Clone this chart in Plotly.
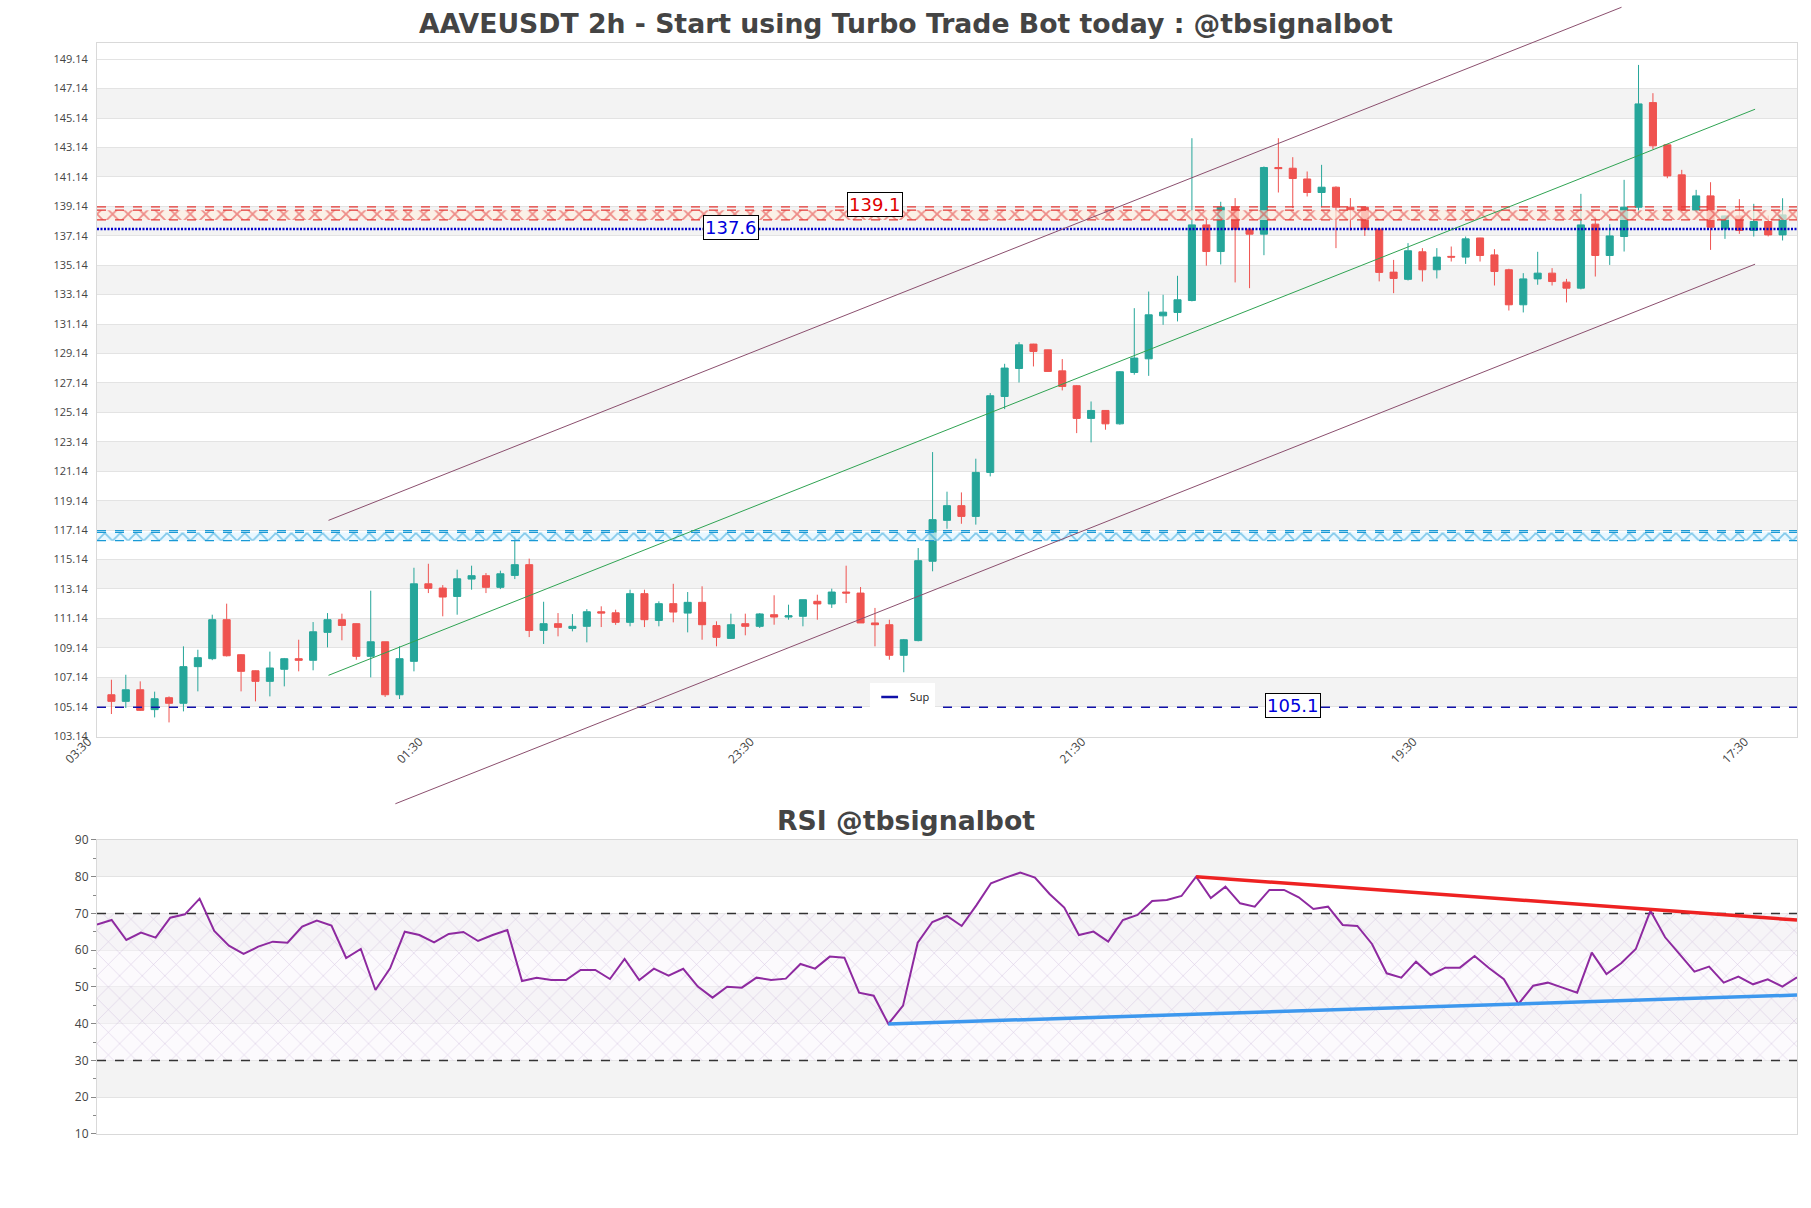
import plotly.graph_objects as go
import pandas as pd

# ---------------- data ----------------
start_time = "2023-05-01 05:30"
tick_labels = ["03:30", "01:30", "23:30", "21:30", "19:30", "17:30"]

opens = [105.95, 105.50, 106.29, 104.94, 105.75, 105.37, 107.86, 108.40, 111.05, 108.67,
         107.58, 106.86, 107.68, 108.40, 108.29, 110.19, 111.05, 110.78, 108.56, 109.55,
         105.95, 108.22, 113.49, 113.20, 112.63, 113.81, 114.04, 113.25, 114.06, 114.79,
         110.32, 110.78, 110.46, 110.60, 111.59, 111.52, 110.87, 112.82, 111.00, 112.14,
         111.50, 112.23, 110.65, 109.78, 110.78, 110.60, 111.39, 111.23, 111.28, 112.30,
         112.12, 112.93, 112.86, 110.83, 110.71, 108.63, 109.63, 115.02, 117.80, 118.80,
         118.07, 121.06, 126.22, 128.12, 129.78, 129.39, 127.96, 126.95, 124.73, 125.27,
         124.36, 127.85, 128.78, 131.70, 131.93, 132.74, 137.88, 136.07, 139.08, 137.59,
         137.25, 141.78, 141.73, 141.00, 140.08, 140.44, 139.08, 139.08, 137.59, 134.67,
         134.18, 136.05, 134.83, 135.74, 135.69, 136.99, 135.84, 134.83, 132.45, 134.21,
         134.60, 133.99, 133.58, 137.93, 135.80, 137.09, 139.08, 146.19, 143.32, 141.28,
         138.86, 139.85, 137.61, 138.49, 137.50, 138.11, 137.20]
highs = [106.97, 107.31, 106.86, 106.16, 105.84, 109.24, 109.01, 111.39, 112.14, 108.70,
         107.60, 108.88, 108.45, 109.69, 110.89, 111.50, 111.46, 110.80, 113.02, 109.55,
         109.24, 114.58, 114.85, 113.40, 114.45, 114.72, 114.22, 114.38, 116.71, 115.20,
         112.27, 111.50, 111.43, 111.77, 111.96, 111.73, 113.09, 113.09, 112.30, 113.49,
         112.93, 113.32, 110.94, 111.46, 111.46, 111.50, 112.71, 112.07, 112.41, 112.75,
         113.16, 114.72, 113.27, 111.85, 111.05, 109.74, 115.92, 122.44, 119.75, 119.70,
         121.99, 126.45, 128.44, 129.91, 129.80, 129.40, 128.76, 127.00, 125.88, 125.30,
         127.95, 132.22, 133.35, 133.13, 134.42, 143.77, 138.40, 139.45, 139.70, 137.60,
         141.85, 143.77, 142.48, 141.51, 141.96, 140.50, 139.70, 139.10, 137.60, 135.50,
         136.64, 136.30, 136.30, 136.41, 137.09, 137.00, 136.23, 134.90, 134.60, 136.05,
         134.94, 134.21, 139.99, 138.45, 137.93, 140.94, 148.75, 146.83, 143.35, 141.62,
         140.26, 140.78, 138.50, 139.63, 139.31, 138.52, 139.69]
lows = [104.64, 105.05, 104.85, 104.41, 104.07, 104.82, 106.18, 108.30, 108.55, 106.18,
        105.50, 105.84, 106.52, 107.54, 107.61, 109.17, 109.65, 108.33, 107.13, 105.80,
        105.66, 107.54, 112.86, 111.28, 111.39, 113.09, 112.86, 113.13, 113.81, 109.87,
        109.40, 109.92, 110.26, 109.51, 110.55, 110.70, 110.60, 110.55, 110.60, 110.87,
        110.19, 109.69, 109.24, 109.75, 109.99, 110.49, 110.71, 111.05, 110.60, 111.05,
        111.85, 112.18, 110.83, 109.24, 108.33, 107.48, 109.58, 114.34, 117.23, 117.57,
        117.51, 120.79, 125.36, 127.17, 128.26, 127.90, 126.63, 123.73, 123.10, 123.96,
        124.30, 127.70, 127.62, 131.09, 131.32, 132.68, 135.11, 135.19, 133.97, 133.58,
        135.82, 140.08, 139.02, 139.81, 139.08, 136.30, 137.50, 137.13, 134.04, 133.24,
        134.10, 134.03, 134.24, 135.39, 135.23, 135.39, 133.76, 132.06, 131.93, 133.81,
        133.76, 132.61, 133.50, 134.37, 135.16, 136.07, 138.56, 143.02, 141.05, 138.80,
        138.72, 136.18, 136.93, 137.27, 137.09, 137.10, 136.82]
closes = [105.50, 106.29, 104.89, 105.68, 105.37, 107.86, 108.47, 111.05, 108.60, 107.54,
          106.86, 107.77, 108.40, 108.29, 110.23, 111.05, 110.66, 108.56, 109.55, 105.95,
          108.40, 113.49, 113.18, 112.59, 113.83, 114.04, 113.25, 114.17, 114.79, 110.32,
          110.78, 110.53, 110.60, 111.59, 111.50, 110.87, 112.82, 111.05, 112.14, 111.57,
          112.23, 110.71, 109.85, 110.71, 110.60, 111.44, 111.23, 111.32, 112.41, 112.12,
          112.93, 112.86, 110.83, 110.71, 108.63, 109.69, 115.06, 117.85, 118.80, 118.07,
          121.06, 126.27, 128.15, 129.73, 129.28, 127.92, 126.90, 124.73, 125.27, 124.36,
          127.90, 128.83, 131.77, 131.95, 132.79, 137.88, 136.07, 139.08, 137.59, 137.25,
          141.78, 141.70, 141.03, 140.08, 140.44, 139.08, 138.90, 137.59, 134.65, 134.24,
          136.12, 134.83, 135.69, 135.69, 136.93, 135.80, 134.71, 132.45, 134.21, 134.60,
          134.03, 133.58, 137.88, 135.80, 137.13, 139.08, 146.10, 143.25, 141.21, 138.86,
          139.85, 137.72, 138.49, 137.50, 138.11, 137.20, 138.56]

rsi = [66.96, 68.23, 62.79, 64.78, 63.42, 68.86, 69.77, 74.03, 65.24, 61.24,
       58.98, 60.97, 62.33, 62.06, 66.41, 68.05, 66.69, 57.89, 60.34, 49.18,
       55.08, 65.05, 64.15, 62.15, 64.42, 64.96, 62.51, 64.15, 65.51, 51.63,
       52.54, 51.90, 51.90, 54.62, 54.62, 52.17, 57.62, 51.90, 55.00, 53.08,
       54.95, 50.10, 47.10, 50.09, 49.82, 52.54, 51.91, 52.27, 56.26, 54.99,
       58.26, 57.98, 48.46, 47.64, 39.93, 44.92, 62.06, 67.69, 69.32, 66.60,
       72.22, 78.21, 79.75, 81.11, 79.75, 75.31, 71.59, 64.15, 65.06, 62.34,
       68.23, 69.59, 73.40, 73.67, 74.76, 80.02, 74.20, 77.30, 72.77, 71.86,
       76.40, 76.40, 74.40, 71.23, 71.86, 66.87, 66.60, 61.70, 53.72, 52.54,
       56.89, 53.27, 55.26, 55.26, 58.44, 55.08, 52.09, 45.38, 50.36, 51.18,
       49.82, 48.46, 59.34, 53.54, 56.44, 60.34, 70.77, 63.52, 58.89, 54.17,
       55.53, 51.18, 52.81, 50.73, 52.09, 50.09, 52.63]

# key levels
resistance_level = 139.1
resistance_zone = [138.22, 138.88]
pivot_level = 137.6
support_zone = [116.42, 116.98]
support_zone_top = 117.1
sup_level = 105.1
label_bars = {"res": 53, "pivot": 43, "sup": 82}

# price channel (bar index, price)
channel_idx = [15.07, 114.09]
channel_mid = [107.27, 145.74]
channel_offset = 10.53
channel_upper_end_idx = 104.82
channel_lower_start_idx = 19.71

# RSI trendlines (bar index, value)
rsi_res_idx = [75, 116]
rsi_res_val = [80.02, 68.2]
rsi_sup_idx = [54, 116]
rsi_sup_val = [39.93, 47.8]

# ---------------- helpers ----------------
times = pd.date_range(start_time, periods=len(opens), freq="2h")
step = pd.Timedelta(hours=2)


def t_at(idx):
    return times[0] + step * idx


FIG_W, FIG_H = 1811, 1208
MARGIN = dict(l=97, r=14, t=43, b=74)
MAIN_DOM = [0.3639, 1.0]
RSI_DOM = [0.0, 0.2695]
Y_RANGE = [103.08, 150.24]
X_RANGE = [t_at(-1), t_at(len(opens))]
TITLE_X = (FIG_W / 2 - MARGIN["l"]) / (FIG_W - MARGIN["l"] - MARGIN["r"])


def paper_y(v):
    return MAIN_DOM[0] + (v - Y_RANGE[0]) / (Y_RANGE[1] - Y_RANGE[0]) * (MAIN_DOM[1] - MAIN_DOM[0])


def chan_val(idx, off):
    slope = (channel_mid[1] - channel_mid[0]) / (channel_idx[1] - channel_idx[0])
    return channel_mid[0] + slope * (idx - channel_idx[0]) + off


GREEN = "#26a69a"
RED = "#ef5350"
BAND = "#f3f3f3"
GRID = "#e3e3e3"
FRAME = "#d9d9d9"
NAVY = "#1010a8"

fig = go.Figure()
xs = [X_RANGE[0], X_RANGE[1]]

# resistance zone (hatched)
fig.add_trace(go.Scatter(x=xs, y=[resistance_zone[0]] * 2, mode="lines",
                         line=dict(color="#e53935", width=1.2, dash="dash"),
                         showlegend=False, hoverinfo="skip"))
fig.add_trace(go.Scatter(x=xs, y=[resistance_zone[1]] * 2, mode="lines",
                         line=dict(color="#e53935", width=1.2, dash="dash"),
                         fill="tonexty", fillcolor="rgba(255,240,225,0.7)",
                         fillpattern=dict(shape="x", fgcolor="#e02828", bgcolor="rgba(255,240,225,0.7)",
                                          size=11, solidity=0.3),
                         showlegend=False, hoverinfo="skip"))
fig.add_trace(go.Scatter(x=xs, y=[resistance_level] * 2, mode="lines",
                         line=dict(color="#e53935", width=1.2, dash="dash"),
                         showlegend=False, hoverinfo="skip"))
# pivot line
fig.add_trace(go.Scatter(x=xs, y=[pivot_level] * 2, mode="lines",
                         line=dict(color="#0000cc", width=2.5, dash="2px,1.5px"),
                         showlegend=False, hoverinfo="skip"))
# support zone (hatched)
fig.add_trace(go.Scatter(x=xs, y=[support_zone[0]] * 2, mode="lines",
                         line=dict(color="#1a9ad6", width=1.2, dash="dash"),
                         showlegend=False, hoverinfo="skip"))
fig.add_trace(go.Scatter(x=xs, y=[support_zone[1]] * 2, mode="lines",
                         line=dict(color="#1a9ad6", width=1.2, dash="dash"),
                         fill="tonexty", fillcolor="rgba(225,245,255,0.7)",
                         fillpattern=dict(shape="x", fgcolor="#1a9ad6", bgcolor="rgba(225,245,255,0.7)",
                                          size=11, solidity=0.3),
                         showlegend=False, hoverinfo="skip"))
fig.add_trace(go.Scatter(x=xs, y=[support_zone_top] * 2, mode="lines",
                         line=dict(color="#1a9ad6", width=1.2, dash="dash"),
                         showlegend=False, hoverinfo="skip"))
# Sup line
fig.add_trace(go.Scatter(x=xs, y=[sup_level] * 2, mode="lines",
                         line=dict(color=NAVY, width=1.3, dash="dash"),
                         showlegend=False, hoverinfo="skip"))

# candles
fig.add_trace(go.Candlestick(
    x=times, open=opens, high=highs, low=lows, close=closes,
    increasing=dict(line=dict(color=GREEN, width=1), fillcolor=GREEN),
    decreasing=dict(line=dict(color=RED, width=1), fillcolor=RED),
    whiskerwidth=0, showlegend=False, xaxis="x", yaxis="y"))

# legend entry
fig.add_trace(go.Scatter(x=[None], y=[None], mode="markers", name="Sup",
                         marker=dict(symbol="line-ew-open", size=12, color=NAVY,
                                     line=dict(color=NAVY, width=2.5)),
                         showlegend=True))

# ---------- RSI ----------
rx = [times[0], times[-1]]
fig.add_trace(go.Scatter(x=rx, y=[30, 30], mode="lines", line=dict(width=0),
                         xaxis="x2", yaxis="y2", showlegend=False, hoverinfo="skip"))
fig.add_trace(go.Scatter(x=rx, y=[70, 70], mode="lines", line=dict(width=0),
                         fill="tonexty", fillcolor="rgba(0,0,0,0)",
                         fillpattern=dict(shape="x", fgcolor="rgba(165,130,190,0.8)",
                                          bgcolor="rgba(250,246,252,0.5)", size=16, solidity=0.07),
                         xaxis="x2", yaxis="y2", showlegend=False, hoverinfo="skip"))
for lvl in (70, 30):
    fig.add_trace(go.Scatter(x=rx, y=[lvl, lvl], mode="lines",
                             line=dict(color="#333333", width=1.3, dash="dash"),
                             xaxis="x2", yaxis="y2", showlegend=False, hoverinfo="skip"))
fig.add_trace(go.Scatter(x=times, y=rsi, mode="lines", line=dict(color="#8e2aa0", width=2),
                         xaxis="x2", yaxis="y2", showlegend=False))
fig.add_trace(go.Scatter(x=[times[i] for i in rsi_res_idx], y=rsi_res_val, mode="lines",
                         line=dict(color="#ee2222", width=3.5),
                         xaxis="x2", yaxis="y2", showlegend=False))
fig.add_trace(go.Scatter(x=[times[i] for i in rsi_sup_idx], y=rsi_sup_val, mode="lines",
                         line=dict(color="#3d98ee", width=3.5),
                         xaxis="x2", yaxis="y2", showlegend=False))

# ---------- shapes ----------
shapes = []
main_ticks = [103.14 + 2 * i for i in range(24)]
for lo in main_ticks:
    if 105.0 < lo < 146.0 and round(lo - 105.14, 2) % 4 == 0:
        shapes.append(dict(type="rect", xref="x domain", yref="y", x0=0, x1=1, y0=lo, y1=lo + 2,
                           fillcolor=BAND, line=dict(width=0), layer="below"))
for lo in (20, 40, 60, 80):
    shapes.append(dict(type="rect", xref="x2 domain", yref="y2", x0=0, x1=1, y0=lo, y1=lo + 10,
                       fillcolor=BAND, line=dict(width=0), layer="below"))

chan_color = "#8b4f6e"
shapes.append(dict(type="line", xref="x", yref="paper",
                   x0=t_at(channel_idx[0]), y0=paper_y(chan_val(channel_idx[0], 0)),
                   x1=t_at(channel_idx[1]), y1=paper_y(chan_val(channel_idx[1], 0)),
                   line=dict(color="#2fa352", width=1), layer="above"))
shapes.append(dict(type="line", xref="x", yref="paper",
                   x0=t_at(channel_idx[0]), y0=paper_y(chan_val(channel_idx[0], channel_offset)),
                   x1=t_at(channel_upper_end_idx), y1=paper_y(chan_val(channel_upper_end_idx, channel_offset)),
                   line=dict(color=chan_color, width=1), layer="above"))
shapes.append(dict(type="line", xref="x", yref="paper",
                   x0=t_at(channel_lower_start_idx), y0=paper_y(chan_val(channel_lower_start_idx, -channel_offset)),
                   x1=t_at(channel_idx[1]), y1=paper_y(chan_val(channel_idx[1], -channel_offset)),
                   line=dict(color=chan_color, width=1), layer="above"))

# ---------- annotations ----------
annotations = [
    dict(text="<b>AAVEUSDT 2h - Start using Turbo Trade Bot today : @tbsignalbot</b>",
         xref="paper", yref="paper", x=TITLE_X, y=1.0183, xanchor="center", yanchor="middle",
         showarrow=False, font=dict(family="DejaVu Sans", size=26.7, color="#444444")),
    dict(text="<b>RSI @tbsignalbot</b>",
         xref="paper", yref="paper", x=TITLE_X, y=0.2878, xanchor="center", yanchor="middle",
         showarrow=False, font=dict(family="DejaVu Sans", size=26.7, color="#444444")),
]
for key, lvl, col in (("res", resistance_level, "#e00000"),
                      ("pivot", pivot_level, "#0000dd"),
                      ("sup", sup_level, "#0000dd")):
    annotations.append(dict(text=f"{lvl:.1f}", x=times[label_bars[key]], y=lvl, xref="x", yref="y",
                            showarrow=False, yshift=2,
                            font=dict(family="DejaVu Sans", size=18, color=col),
                            bgcolor="white", bordercolor="black", borderwidth=1, borderpad=1))

tick_positions = [t_at(-1 + 23 * i) for i in range(len(tick_labels))]

fig.update_layout(
    width=FIG_W, height=FIG_H, margin=MARGIN,
    paper_bgcolor="white", plot_bgcolor="white",
    font=dict(family="Open Sans", size=12, color="#444444"),
    shapes=shapes, annotations=annotations,
    showlegend=True,
    legend=dict(x=0.4545, y=0.4005, xanchor="left", yanchor="middle",
                bgcolor="white", font=dict(size=11, color="#222222"), itemwidth=30),
    xaxis=dict(domain=[0, 1], anchor="y", range=X_RANGE, rangeslider=dict(visible=False),
               tickvals=tick_positions, ticktext=tick_labels, tickangle=-45,
               showgrid=False, showline=True, linecolor=FRAME, mirror=True, ticks="",
               ticklabelshift=-9, ticklabelstandoff=-8,
               tickfont=dict(size=12, color="#444444")),
    yaxis=dict(domain=MAIN_DOM, anchor="x", range=Y_RANGE, tickvals=main_ticks,
               ticktext=[f"{v:.2f}" for v in main_ticks],
               showgrid=True, gridcolor=GRID, zeroline=False,
               showline=True, linecolor=FRAME, mirror=True,
               ticks="outside", ticklen=6, tickcolor="rgba(0,0,0,0)",
               tickfont=dict(size=11, color="#444444")),
    xaxis2=dict(domain=[0, 1], anchor="y2", range=rx, showticklabels=False, showgrid=False,
                showline=True, linecolor=FRAME, mirror=True, ticks=""),
    yaxis2=dict(domain=RSI_DOM, anchor="x2", range=[10, 90], tickvals=list(range(10, 91, 10)),
                showgrid=True, gridcolor=GRID, zeroline=False,
                showline=True, linecolor=FRAME, mirror=True,
                ticks="outside", ticklen=5, tickcolor="#888888",
                minor=dict(ticks="outside", ticklen=3, dtick=5, tickcolor="#888888", showgrid=False),
                tickfont=dict(size=12, color="#444444")),
)

fig.write_html("out.html")
